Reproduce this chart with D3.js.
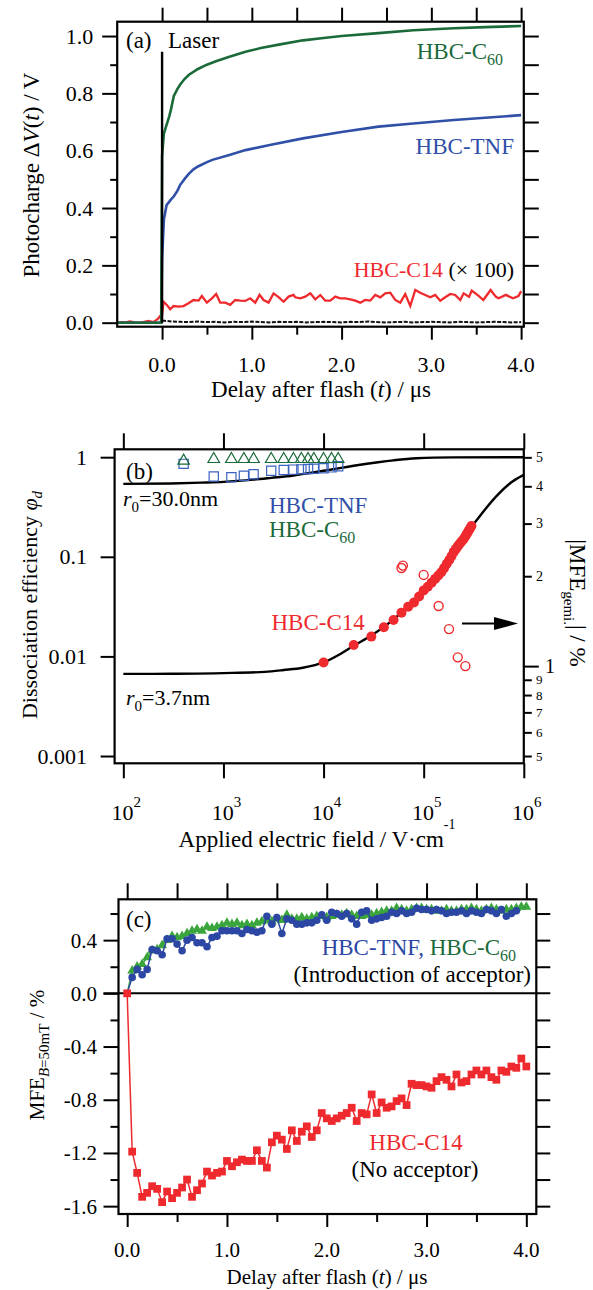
<!DOCTYPE html>
<html><head><meta charset="utf-8">
<script src="https://cdn.jsdelivr.net/npm/d3@7"></script>
<style>
body{margin:0;background:#fff}
</style>
</head><body>
<svg id="chart" width="593" height="1290" font-family="'Liberation Serif', 'DejaVu Serif', serif"></svg>
<script>
// ---------------- DATA ----------------
// Panel (a): photocharge transients [t (us), V]
const aC60 = [[-0.5,0],[-0.01,0],[0.0,0.58],[0.02,0.66],[0.05,0.69],[0.08,0.72],[0.1,0.745],[0.13,0.79],[0.17,0.815],[0.2,0.83],[0.25,0.85],[0.3,0.865],[0.4,0.885],[0.5,0.9],[0.6,0.912],[0.75,0.928],[0.93,0.945],[1.1,0.958],[1.3,0.97],[1.57,0.985],[1.8,0.993],[2.0,1.0],[2.41,1.01],[2.8,1.02],[3.25,1.027],[3.6,1.031],[4.0,1.035]];
const aTNF = [[-0.5,0],[-0.01,0],[0.0,0.22],[0.02,0.36],[0.05,0.41],[0.1,0.43],[0.13,0.44],[0.17,0.46],[0.2,0.48],[0.26,0.505],[0.3,0.52],[0.35,0.535],[0.4,0.545],[0.5,0.56],[0.56,0.568],[0.75,0.585],[0.93,0.602],[1.2,0.62],[1.57,0.643],[2.0,0.665],[2.41,0.684],[2.8,0.695],[3.25,0.707],[3.6,0.715],[4.0,0.724]];
const aC14 = [[-0.5,0.0],[-0.45,0.002],[-0.4,0.001],[-0.36,0.004],[-0.3,0.001],[-0.25,0.0],[-0.2,0.003],[-0.15,0.006],[-0.1,0.002],[-0.05,0.012],[-0.02,0.024],[0.0,0.027],[0.016,0.073],[0.053,0.062],[0.09,0.047],[0.127,0.058],[0.183,0.056],[0.239,0.058],[0.294,0.068],[0.35,0.079],[0.406,0.077],[0.443,0.093],[0.499,0.070],[0.555,0.085],[0.603,0.100],[0.648,0.070],[0.704,0.070],[0.759,0.062],[0.815,0.079],[0.871,0.077],[0.926,0.076],[0.982,0.085],[1.038,0.070],[1.086,0.097],[1.131,0.079],[1.186,0.070],[1.242,0.102],[1.298,0.089],[1.354,0.073],[1.409,0.091],[1.465,0.097],
 [1.484,0.0885],[1.540,0.085],[1.595,0.0908],[1.651,0.1024],[1.707,0.0815],[1.763,0.0966],[1.818,0.0769],[1.874,0.0769],[1.930,0.0908],[1.985,0.085],[2.041,0.085],[2.097,0.0815],[2.152,0.0769],[2.208,0.0699],[2.264,0.0792],[2.319,0.0769],[2.375,0.0966],[2.431,0.0885],[2.487,0.1024],[2.542,0.1047],[2.598,0.0792],[2.654,0.0699],[2.709,0.1001],[2.765,0.0582],[2.821,0.114],[2.876,0.1047],[2.932,0.0966],[2.988,0.0885],[3.043,0.0966],[3.099,0.0769],[3.155,0.0885],[3.211,0.1001],[3.266,0.0966],[3.322,0.0792],[3.36,0.1024],
 [3.42,0.09],[3.45,0.112],[3.52,0.095],[3.58,0.079],[3.66,0.114],[3.72,0.09],[3.75,0.085],[3.83,0.097],[3.91,0.085],[3.97,0.093],[4.0,0.11]];
const aLaser = [[0,0],[0,0.945]];
const aBaseline = [0.008,0.004,0.003,0.002,0.004,0.002,0.003,0.001,0.003,0.002,0.004,0.002,0.001,0.003,0.002,0.003,0.001,0.002,0.003,0.002,0.001,0.003,0.002,0.004,0.002,0.001,0.002,0.003,0.001,0.002,0.003,0.002,0.001,0.003,0.002,0.001,0.002,0.003,0.002,0.001,0.002];
const aXTicks = [0,1,2,3,4];
const aXLabels = ["0.0","1.0","2.0","3.0","4.0"];
const aYTicks = [0,0.2,0.4,0.6,0.8,1.0];
const aYLabels = ["0.0","0.2","0.4","0.6","0.8","1.0"];

// Panel (b): dissociation efficiency vs field
const bFitHigh = [[100,0.54],[300,0.545],[600,0.555],[1000,0.565],[2000,0.595],[3000,0.62],[5000,0.655],[7000,0.69],[10000,0.73],[15000,0.78],[20000,0.82],[35000,0.89],[50000,0.93],[85000,0.975],[200000,0.995],[1000000,1.0]];
const bFitLow = [[100,0.00667],[300,0.0067],[1000,0.0068],[2600,0.007],[4000,0.0073],[6200,0.0077],[10000,0.0087],[15000,0.0107],[20000,0.0128],[30000,0.0162],[50000,0.0235],[70000,0.032],[100000,0.046],[150000,0.072],[200000,0.11],[300000,0.2],[330000,0.226],[525000,0.40],[770000,0.57],[1000000,0.665]];
const bC60Field = [400,800,1200,1600,2000,3000,4000,5000,6000,7000,8000,10000,12000,14000];
const bC60Phi   = [0.92,0.955,0.955,0.955,0.955,0.955,0.955,0.955,0.955,0.955,0.955,0.955,0.955,0.955];
const bTNFField = [400,800,1200,1600,2000,3000,4000,5000,6000,7000,8000,10000,12000,14000];
const bTNFPhi   = [0.857,0.64,0.63,0.65,0.675,0.73,0.745,0.75,0.755,0.76,0.765,0.775,0.79,0.81];
const bC14Field = [10000,20000,30000,40000,50000,60000,70000,80000,90000,100000,110000,120000,130000,140000,150000,160000,170000,180000,190000,200000,210000,220000,230000,240000,250000,260000,270000,280000,290000,300000];
const bC14Phi   = [0.0087,0.013,0.0158,0.0196,0.0232,0.0275,0.0316,0.0347,0.040,0.046,0.050,0.055,0.060,0.065,0.070,0.077,0.085,0.093,0.102,0.112,0.120,0.128,0.136,0.143,0.150,0.160,0.170,0.181,0.192,0.204];
const bMfeField = [60000,62000,100000,141000,179000,219000,261000];
const bMfeVal   = [2.13,2.17,2.02,1.59,1.33,1.07,1.0];
const bXTicks = [1e2,1e3,1e4,1e5,1e6];
const bXExp = ["2","3","4","5","6"];
const bYTicks = [0.001,0.01,0.1,1];
const bYLabels = ["0.001","0.01","0.1","1"];
const bY2Ticks = [5,4,3,2,1,0.9,0.8,0.7,0.6,0.5];
const bY2Labels = ["5","4","3","2","1","9","8","7","6","5"];

// Panel (c): MFE vs delay, samples every 0.05 us
const cStep = 0.05;
const cC14 = [0.0,-1.19,-1.35,-1.53,-1.50,-1.45,-1.47,-1.57,-1.49,-1.54,-1.50,-1.46,-1.40,-1.53,-1.48,-1.43,-1.34,-1.37,-1.35,-1.34,-1.26,-1.30,-1.27,-1.25,-1.26,-1.26,-1.18,-1.26,-1.31,-1.12,-1.07,-1.10,-1.17,-1.03,-1.11,-1.04,-1.00,-1.08,-1.03,-0.90,-0.94,-0.96,-0.94,-0.92,-0.90,-0.86,-0.96,-0.90,-0.91,-0.76,-0.90,-0.82,-0.86,-0.85,-0.81,-0.79,-0.84,-0.68,-0.69,-0.69,-0.70,-0.71,-0.66,-0.63,-0.65,-0.70,-0.61,-0.67,-0.66,-0.61,-0.58,-0.61,-0.58,-0.63,-0.65,-0.58,-0.59,-0.55,-0.56,-0.49,-0.55];
const cTNF = [0.0,0.12,0.18,0.14,0.18,0.33,0.32,0.29,0.41,0.41,0.37,0.32,0.40,0.42,0.38,0.38,0.35,0.42,0.43,0.47,0.47,0.47,0.47,0.45,0.48,0.47,0.46,0.47,0.58,0.52,0.57,0.45,0.56,0.55,0.52,0.52,0.53,0.53,0.55,0.59,0.55,0.61,0.60,0.58,0.60,0.56,0.52,0.61,0.62,0.55,0.56,0.57,0.58,0.61,0.60,0.62,0.60,0.61,0.64,0.63,0.63,0.62,0.63,0.62,0.60,0.61,0.61,0.62,0.60,0.62,0.61,0.60,0.63,0.62,0.60,0.63,0.58,0.60,0.62];
const cC60 = [0.0,0.17,0.20,0.22,0.27,0.32,0.33,0.36,0.40,0.43,0.42,0.43,0.45,0.47,0.48,0.47,0.50,0.49,0.50,0.51,0.53,0.52,0.53,0.51,0.52,0.51,0.53,0.54,0.55,0.54,0.56,0.55,0.59,0.56,0.56,0.57,0.56,0.57,0.58,0.58,0.57,0.58,0.59,0.59,0.60,0.59,0.58,0.58,0.59,0.59,0.60,0.61,0.62,0.62,0.64,0.63,0.62,0.63,0.64,0.64,0.63,0.63,0.62,0.62,0.63,0.62,0.62,0.63,0.63,0.64,0.63,0.62,0.63,0.64,0.63,0.62,0.63,0.63,0.64,0.65,0.65];
const cXTicks = [0,1,2,3,4];
const cXLabels = ["0.0","1.0","2.0","3.0","4.0"];
const cYTicks = [0.4,0,-0.4,-0.8,-1.2,-1.6];
const cYLabels = ["0.4","0.0","-0.4","-0.8","-1.2","-1.6"];

// ---------------- STYLE ----------------
const FONT = "'Liberation Serif', 'DejaVu Serif', serif";
const GREEN_D = "#1b6b3a", BLUE_D = "#3050a8", RED = "#ee2a2e", GREEN_L = "#3aa53c", BLUE_C = "#2c47a3";
const svg = d3.select("#chart");

function rich(g, x, y, parts, o) {
  const t = g.append("text").attr("x", x).attr("y", y)
    .attr("font-family", FONT)
    .attr("font-size", o.size).attr("fill", o.fill || "#000")
    .attr("text-anchor", o.anchor || "start");
  if (o.rotate) t.attr("transform", `rotate(${o.rotate},${x},${y})`);
  let shift = 0;
  parts.forEach(p => {
    const s = t.append("tspan").text(p.t);
    const target = p.sub || 0;
    if (target - shift !== 0) s.attr("dy", target - shift);
    shift = target;
    if (p.size) s.attr("font-size", p.size);
    if (p.it) s.attr("font-style", "italic");
    if (p.fill) s.attr("fill", p.fill);
  });
  return t;
}
function styleAxis(sel) {
  sel.select(".domain").remove();
  sel.selectAll("line").attr("stroke", "#000").attr("stroke-width", 2);
}
function frame(g, F) {
  g.append("rect").attr("x", F.l).attr("y", F.t).attr("width", F.r - F.l).attr("height", F.b - F.t)
    .attr("fill", "none").attr("stroke", "#000").attr("stroke-width", 2.2);
}

// ================= PANEL (a) =================
{
  const F = {l:117.2, r:523.8, t:21.7, b:326.7};
  const g = svg.append("g");
  const x = d3.scaleLinear().domain([-0.5, 4.03]).range([F.l, F.r]);
  const y = d3.scaleLinear().domain([-0.014, 1.05]).range([F.b, F.t]);
  const line = d3.line().x(d => x(d[0])).y(d => y(d[1]));

  g.append("g").attr("transform", `translate(${F.l},0)`).call(d3.axisLeft(y).tickValues(aYTicks).tickSize(15).tickFormat("")).call(styleAxis);
  g.append("g").attr("transform", `translate(${F.l},0)`).call(d3.axisLeft(y).tickValues([0.1,0.3,0.5,0.7,0.9]).tickSize(7).tickFormat("")).call(styleAxis);
  g.append("g").attr("transform", `translate(${F.r},0)`).call(d3.axisRight(y).tickValues(d3.range(0, 1.01, 0.1)).tickSize(15).tickFormat("")).call(styleAxis);
  g.append("g").attr("transform", `translate(0,${F.b})`).call(d3.axisBottom(x).tickValues(aXTicks).tickSize(13).tickFormat("")).call(styleAxis);
  g.append("g").attr("transform", `translate(0,${F.b})`).call(d3.axisBottom(x).tickValues([0.5,1.5,2.5,3.5]).tickSize(8).tickFormat("")).call(styleAxis);
  g.append("g").attr("transform", `translate(0,${F.t})`).call(d3.axisTop(x).tickValues(d3.range(0, 4.01, 0.5)).tickSize(14).tickFormat("")).call(styleAxis);

  g.selectAll(".ylab").data(aYTicks).enter().append("text")
    .attr("font-family", FONT)
    .attr("x", F.l - 24).attr("y", d => y(d) + 7.5).attr("text-anchor", "end").attr("font-size", 22)
    .text((d, i) => aYLabels[i]);
  g.selectAll(".xlab").data(aXTicks).enter().append("text")
    .attr("font-family", FONT)
    .attr("x", d => x(d)).attr("y", 371.7).attr("text-anchor", "middle").attr("font-size", 22)
    .text((d, i) => aXLabels[i]);

  // baseline (black noisy trace)
  g.append("path").datum(aBaseline.map((v, i) => [i * 0.1, v])).attr("d", line)
    .attr("fill", "none").attr("stroke", "#111").attr("stroke-width", 2).attr("stroke-dasharray", "4,1.5");
  g.append("path").datum(aC14).attr("d", line).attr("fill", "none").attr("stroke", RED).attr("stroke-width", 2.3);
  g.append("path").datum(aTNF).attr("d", line).attr("fill", "none").attr("stroke", BLUE_D).attr("stroke-width", 2.6);
  g.append("path").datum(aC60).attr("d", line).attr("fill", "none").attr("stroke", GREEN_D).attr("stroke-width", 2.6);
  g.append("path").datum(aLaser).attr("d", line).attr("fill", "none").attr("stroke", "#000").attr("stroke-width", 2.4);

  frame(g, F);

  rich(g, 126, 48, [{t:"(a)"}], {size:23});
  rich(g, 168, 48, [{t:"Laser"}], {size:23});
  rich(g, 503, 59, [{t:"HBC-C"},{t:"60", sub:6, size:16}], {size:23, fill:GREEN_D, anchor:"end"});
  rich(g, 514, 154, [{t:"HBC-TNF"}], {size:23, fill:BLUE_D, anchor:"end"});
  rich(g, 514, 277, [{t:"HBC-C14 ", fill:RED},{t:"(× 100)"}], {size:22, anchor:"end"});

  rich(g, 321, 396.7, [{t:"Delay after flash ("},{t:"t", it:true},{t:") / μs"}], {size:23, anchor:"middle"});
  rich(g, 39, 175, [{t:"Photocharge Δ"},{t:"V", it:true},{t:"("},{t:"t", it:true},{t:") / V"}], {size:23, anchor:"middle", rotate:-90});
}

// ================= PANEL (b) =================
{
  const F = {l:114.6, r:523.8, t:449.3, b:763.3};
  const g = svg.append("g");
  const x = d3.scaleLog().domain([81.8, 1e6]).range([F.l, F.r]);
  const y = d3.scaleLog().domain([0.000845, 1.2]).range([F.b, F.t]);
  const y2 = d3.scaleLog().domain([0.4727, 5.32]).range([F.b, F.t]);
  const line = d3.line().x(d => x(d[0])).y(d => y(d[1])).curve(d3.curveMonotoneX);

  g.append("g").attr("transform", `translate(${F.l},0)`).call(d3.axisLeft(y).tickValues(bYTicks).tickSize(14).tickFormat("")).call(styleAxis);
  g.append("g").attr("transform", `translate(0,${F.b})`).call(d3.axisBottom(x).tickValues(bXTicks).tickSize(15).tickFormat("")).call(styleAxis);
  g.append("g").attr("transform", `translate(0,${F.t})`).call(d3.axisTop(x).tickValues(bXTicks).tickSize(16).tickFormat("")).call(styleAxis);
  g.append("g").attr("transform", `translate(${F.r},0)`).call(d3.axisRight(y2).tickValues(bY2Ticks.filter(d => d !== 1)).tickSize(8).tickFormat("")).call(styleAxis);
  g.append("g").attr("transform", `translate(${F.r},0)`).call(d3.axisRight(y2).tickValues([1]).tickSize(15).tickFormat("")).call(styleAxis);

  g.selectAll(".ylab").data(bYTicks).enter().append("text")
    .attr("font-family", FONT)
    .attr("x", 87).attr("y", d => y(d) + 7.5).attr("text-anchor", "end").attr("font-size", 22)
    .text((d, i) => bYLabels[i]);
  bXTicks.forEach((d, i) => {
    rich(g, x(d) + 3, 820, [{t:"10"},{t:bXExp[i], sub:-13, size:15}], {size:22, anchor:"middle"});
  });
  g.selectAll(".y2lab").data(bY2Ticks).enter().append("text")
    .attr("font-family", FONT)
    .attr("x", d => d === 1 ? 545 : 536)
    .attr("y", d => y2(d) + (d === 1 ? 6.5 : 4.5))
    .attr("font-size", (d, i) => d === 1 ? 20 : (i < 4 ? 14 : 13))
    .text((d, i) => bY2Labels[i]);

  g.append("path").datum(bFitHigh).attr("d", line).attr("fill", "none").attr("stroke", "#000").attr("stroke-width", 2.4);
  g.append("path").datum(bFitLow).attr("d", line).attr("fill", "none").attr("stroke", "#000").attr("stroke-width", 2.4);

  const tri = d3.symbol().type(d3.symbolTriangle).size(58);
  const sq = d3.symbol().type(d3.symbolSquare).size(85);
  g.selectAll(".sq").data(bTNFField).enter().append("path").attr("d", sq)
    .attr("transform", (d, i) => `translate(${x(d)},${y(bTNFPhi[i])})`)
    .attr("fill", "none").attr("stroke", "#3a62c0").attr("stroke-width", 1.2);
  g.selectAll(".tri").data(bC60Field).enter().append("path").attr("d", tri)
    .attr("transform", (d, i) => `translate(${x(d)},${y(bC60Phi[i])})`)
    .attr("fill", "none").attr("stroke", GREEN_D).attr("stroke-width", 1.2);

  g.selectAll(".dot").data(bC14Field).enter().append("circle")
    .attr("cx", d => x(d)).attr("cy", (d, i) => y(bC14Phi[i])).attr("r", 5).attr("fill", RED);
  g.selectAll(".odot").data(bMfeField).enter().append("circle")
    .attr("cx", d => x(d)).attr("cy", (d, i) => y2(bMfeVal[i])).attr("r", 4.5)
    .attr("fill", "none").attr("stroke", RED).attr("stroke-width", 1.4);

  // arrow pointing to right axis
  g.append("line").attr("x1", 462).attr("x2", 496).attr("y1", 623.5).attr("y2", 623.5).attr("stroke", "#000").attr("stroke-width", 2);
  g.append("path").attr("d", "M494,617 L518,623.5 L494,630 Z").attr("fill", "#000");

  frame(g, F);

  rich(g, 126, 479, [{t:"(b)"}], {size:23});
  rich(g, 123, 506, [{t:"r", it:true},{t:"0", sub:6, size:15},{t:"=30.0nm"}], {size:22});
  rich(g, 126, 705, [{t:"r", it:true},{t:"0", sub:6, size:15},{t:"=3.7nm"}], {size:22});
  rich(g, 269, 512.7, [{t:"HBC-TNF"}], {size:23, fill:BLUE_D});
  rich(g, 269, 536.7, [{t:"HBC-C"},{t:"60", sub:6, size:16}], {size:23, fill:GREEN_D});
  rich(g, 271.5, 630, [{t:"HBC-C14"}], {size:23, fill:RED});

  rich(g, 317, 846.7, [{t:"Applied electric field / V·cm"},{t:"-1", sub:-18, size:14}], {size:23, anchor:"middle"});
  rich(g, 37, 605, [{t:"Dissociation efficiency "},{t:"φ", it:true},{t:"d", it:true, sub:5, size:15}], {size:22, anchor:"middle", rotate:-90});
  rich(g, 570, 603, [{t:"|MFE"},{t:"gemi.", sub:6, size:15},{t:"| / %"}], {size:23, anchor:"middle", rotate:90});
}

// ================= PANEL (c) =================
{
  const F = {l:118.5, r:536.3, t:899.3, b:1214};
  const g = svg.append("g");
  const x = d3.scaleLinear().domain([-0.087, 4.1]).range([F.l, F.r]);
  const y = d3.scaleLinear().domain([-1.659, 0.707]).range([F.b, F.t]);
  const line = d3.line().x(d => x(d[0])).y(d => y(d[1]));
  const pts = arr => arr.map((v, i) => [+(i * cStep).toFixed(2), v]);

  g.append("g").attr("transform", `translate(${F.l},0)`).call(d3.axisLeft(y).tickValues(cYTicks).tickSize(15).tickFormat("")).call(styleAxis);
  g.append("g").attr("transform", `translate(${F.l},0)`).call(d3.axisLeft(y).tickValues([0.6,0.2,-0.2,-0.6,-1.0,-1.4]).tickSize(8).tickFormat("")).call(styleAxis);
  g.append("g").attr("transform", `translate(${F.r},0)`).call(d3.axisRight(y).tickValues([0.6,0.4,0.2,-0.2,-0.4,-0.6,-0.8,-1.0,-1.2,-1.4,-1.6]).tickSize(14).tickFormat("")).call(styleAxis);
  g.append("g").attr("transform", `translate(0,${F.b})`).call(d3.axisBottom(x).tickValues(cXTicks).tickSize(13).tickFormat("")).call(styleAxis);
  g.append("g").attr("transform", `translate(0,${F.b})`).call(d3.axisBottom(x).tickValues([0.5,1.5,2.5,3.5]).tickSize(8).tickFormat("")).call(styleAxis);
  g.append("g").attr("transform", `translate(0,${F.t})`).call(d3.axisTop(x).tickValues(d3.range(0, 4.01, 0.5)).tickSize(16).tickFormat("")).call(styleAxis);
  // zero line
  g.append("line").attr("x1", F.l - 15).attr("x2", F.r + 14).attr("y1", y(0)).attr("y2", y(0)).attr("stroke", "#000").attr("stroke-width", 2);

  g.selectAll(".ylab").data(cYTicks).enter().append("text")
    .attr("font-family", FONT)
    .attr("x", 97).attr("y", d => y(d) + 7.5).attr("text-anchor", "end").attr("font-size", 21)
    .text((d, i) => cYLabels[i]);
  g.selectAll(".xlab").data(cXTicks).enter().append("text")
    .attr("font-family", FONT)
    .attr("x", d => x(d)).attr("y", 1256.7).attr("text-anchor", "middle").attr("font-size", 21)
    .text((d, i) => cXLabels[i]);

  // HBC-C60 (green triangles)
  const c60 = pts(cC60);
  g.append("path").datum(c60).attr("d", line).attr("fill", "none").attr("stroke", GREEN_L).attr("stroke-width", 1.5);
  const tri = d3.symbol().type(d3.symbolTriangle).size(42);
  g.selectAll(".tri").data(c60.slice(1)).enter().append("path").attr("d", tri)
    .attr("transform", d => `translate(${x(d[0])},${y(d[1])})`).attr("fill", GREEN_L);
  // HBC-TNF (blue circles)
  const tnf = pts(cTNF);
  g.append("path").datum(tnf).attr("d", line).attr("fill", "none").attr("stroke", BLUE_C).attr("stroke-width", 1.5);
  g.selectAll(".cir").data(tnf.slice(1)).enter().append("circle")
    .attr("cx", d => x(d[0])).attr("cy", d => y(d[1])).attr("r", 3.8).attr("fill", BLUE_C);
  // HBC-C14 (red squares)
  const c14 = pts(cC14);
  g.append("path").datum(c14).attr("d", line).attr("fill", "none").attr("stroke", RED).attr("stroke-width", 1.5);
  const sq = d3.symbol().type(d3.symbolSquare).size(60);
  g.selectAll(".sq").data(c14).enter().append("path").attr("d", sq)
    .attr("transform", d => `translate(${x(d[0])},${y(d[1])})`).attr("fill", RED);

  frame(g, F);

  rich(g, 126, 926.7, [{t:"(c)"}], {size:23});
  rich(g, 516, 955, [{t:"HBC-TNF, ", fill:BLUE_C},{t:"HBC-C", fill:GREEN_D},{t:"60", sub:6, size:16, fill:GREEN_D}], {size:23, anchor:"end"});
  rich(g, 531, 981.7, [{t:"(Introduction of acceptor)"}], {size:23, anchor:"end"});
  rich(g, 416, 1150, [{t:"HBC-C14"}], {size:23, fill:RED, anchor:"middle"});
  rich(g, 415, 1176.7, [{t:"(No acceptor)"}], {size:23, anchor:"middle"});

  rich(g, 327, 1283.5, [{t:"Delay after flash ("},{t:"t", it:true},{t:") / μs"}], {size:21, anchor:"middle"});
  rich(g, 44, 1055, [{t:"MFE"},{t:"B", it:true, sub:5, size:15},{t:"=50mT", sub:5, size:15},{t:"  / %"}], {size:21, anchor:"middle", rotate:-90});
}
</script>
</body></html>
